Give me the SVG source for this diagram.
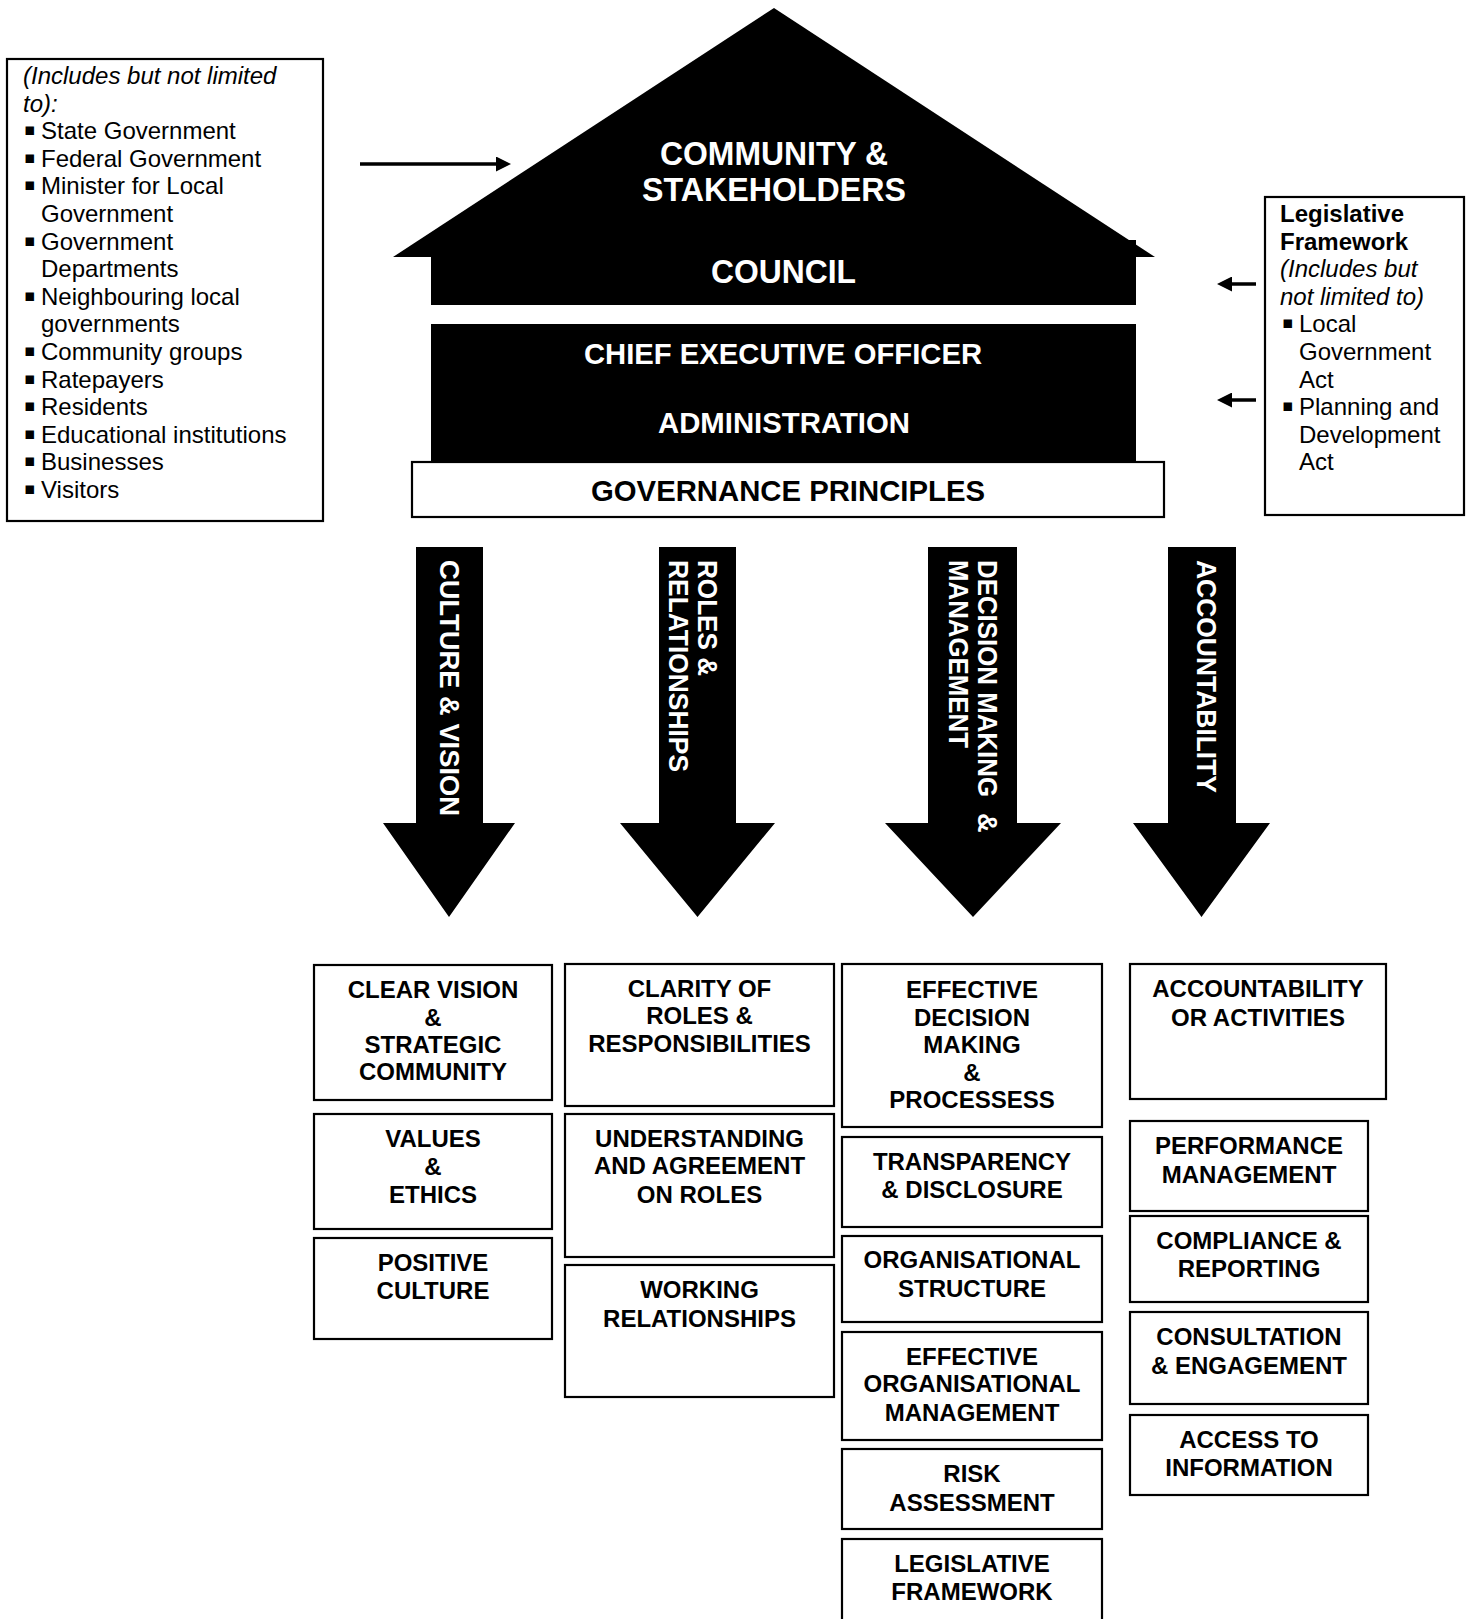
<svg xmlns="http://www.w3.org/2000/svg" width="1470" height="1619" viewBox="0 0 1470 1619">
<defs>
<style>
.bg{fill:#fff}
.blk{fill:#000}
.box{fill:#fff;stroke:#000;stroke-width:2.2}
.wt{fill:#fff;font-family:"Liberation Sans",Arial,sans-serif;font-weight:bold;text-anchor:middle}
.hb{font-size:33px}
.hm{font-size:30px}
.bt{fill:#000;font-family:"Liberation Sans",Arial,sans-serif;font-weight:bold;font-size:24px;text-anchor:middle}
.lt{fill:#000;font-family:"Liberation Sans",Arial,sans-serif;font-size:24px}
.it{font-style:italic}
.bd{font-weight:bold}
.bul{fill:#000;font-family:"DejaVu Sans",sans-serif;font-size:17px}
.at{fill:#fff;font-family:"Liberation Sans",Arial,sans-serif;font-weight:bold;font-size:27px}
.con{stroke:#000;stroke-width:3.5;fill:none}
</style>
<marker id="ah" viewBox="0 0 15 15" refX="3" refY="7.5" markerWidth="15" markerHeight="15" markerUnits="userSpaceOnUse" orient="auto">
<path d="M0,0 L15,7.5 L0,15 Z" fill="#000"/>
</marker>
</defs>
<rect class="bg" x="0" y="0" width="1470" height="1619"/>

<g id="stakeholders-list">
<rect class="box" x="7" y="59" width="316" height="462"/>
<text class="lt it" x="23" y="84">(Includes but not limited</text>
<text class="lt it" x="23" y="111.6">to):</text>
<text class="bul" x="24" y="135.2">▪</text><text class="lt" x="41" y="139.2">State Government</text>
<text class="bul" x="24" y="162.8">▪</text><text class="lt" x="41" y="166.8">Federal Government</text>
<text class="bul" x="24" y="190.4">▪</text><text class="lt" x="41" y="194.4">Minister for Local</text>
<text class="lt" x="41" y="222">Government</text>
<text class="bul" x="24" y="245.6">▪</text><text class="lt" x="41" y="249.6">Government</text>
<text class="lt" x="41" y="277.2">Departments</text>
<text class="bul" x="24" y="300.8">▪</text><text class="lt" x="41" y="304.8">Neighbouring local</text>
<text class="lt" x="41" y="332.4">governments</text>
<text class="bul" x="24" y="356">▪</text><text class="lt" x="41" y="360">Community groups</text>
<text class="bul" x="24" y="383.6">▪</text><text class="lt" x="41" y="387.6">Ratepayers</text>
<text class="bul" x="24" y="411.2">▪</text><text class="lt" x="41" y="415.2">Residents</text>
<text class="bul" x="24" y="438.8">▪</text><text class="lt" x="41" y="442.8">Educational institutions</text>
<text class="bul" x="24" y="466.4">▪</text><text class="lt" x="41" y="470.4">Businesses</text>
<text class="bul" x="24" y="494">▪</text><text class="lt" x="41" y="498">Visitors</text>
</g>

<g id="legislative-framework">
<rect class="box" x="1265" y="197" width="199" height="318"/>
<text class="lt bd" x="1280" y="222">Legislative</text>
<text class="lt bd" x="1280" y="249.6">Framework</text>
<text class="lt it" x="1280" y="277.2">(Includes but</text>
<text class="lt it" x="1280" y="304.8">not limited to)</text>
<text class="bul" x="1282" y="328.4">▪</text><text class="lt" x="1299" y="332.4">Local</text>
<text class="lt" x="1299" y="360">Government</text>
<text class="lt" x="1299" y="387.6">Act</text>
<text class="bul" x="1282" y="411.2">▪</text><text class="lt" x="1299" y="415.2">Planning and</text>
<text class="lt" x="1299" y="442.8">Development</text>
<text class="lt" x="1299" y="470.4">Act</text>
</g>

<g id="council">
<rect class="blk" x="431" y="240" width="705" height="65"/>
<polygon class="blk" points="774,8 1155,257 393,257"/>
<text class="wt hb" x="774" y="165" textLength="228" lengthAdjust="spacingAndGlyphs">COMMUNITY &amp;</text>
<text class="wt hb" x="774" y="201" textLength="264" lengthAdjust="spacingAndGlyphs">STAKEHOLDERS</text>
<text class="wt hb" x="783.5" y="283" textLength="145" lengthAdjust="spacingAndGlyphs">COUNCIL</text>
</g>

<g id="administration">
<rect class="blk" x="431" y="324" width="705" height="140"/>
<text class="wt hm" x="783" y="364" textLength="398" lengthAdjust="spacingAndGlyphs">CHIEF EXECUTIVE OFFICER</text>
<text class="wt hm" x="784" y="433" textLength="252" lengthAdjust="spacingAndGlyphs">ADMINISTRATION</text>
</g>

<g id="governance-principles">
<rect class="box" x="412" y="462" width="752" height="55"/>
<text class="bt" x="788" y="501" style="font-size:30px" textLength="394" lengthAdjust="spacingAndGlyphs">GOVERNANCE PRINCIPLES</text>
</g>

<g id="connectors">
<line class="con" x1="360" y1="164" x2="499" y2="164" marker-end="url(#ah)"/>
<line class="con" x1="1256" y1="284" x2="1229" y2="284" marker-end="url(#ah)"/>
<line class="con" x1="1256" y1="400" x2="1229" y2="400" marker-end="url(#ah)"/>
</g>

<g id="arrow-culture">
<polygon class="blk" points="416,547 483,547 483,823 515,823 449,917 383,823 416,823"/>
<text class="at" transform="translate(440,560) rotate(90)" x="0" y="0" textLength="256" lengthAdjust="spacingAndGlyphs">CULTURE &amp; VISION</text>
</g>
<g id="arrow-roles">
<polygon class="blk" points="659,547 736,547 736,823 775,823 697.5,917 620,823 659,823"/>
<text class="at" transform="translate(698,560) rotate(90)" x="0" y="0" textLength="116" lengthAdjust="spacingAndGlyphs">ROLES &amp;</text>
<text class="at" transform="translate(669,560) rotate(90)" x="0" y="0" textLength="212" lengthAdjust="spacingAndGlyphs">RELATIONSHIPS</text>
</g>
<g id="arrow-decision">
<polygon class="blk" points="928,547 1017,547 1017,823 1061,823 973,917 885,823 928,823"/>
<text class="at" transform="translate(978,560) rotate(90)" x="0" y="0"><tspan textLength="237" lengthAdjust="spacingAndGlyphs">DECISION MAKING</tspan><tspan x="253">&amp;</tspan></text>
<text class="at" transform="translate(949,560) rotate(90)" x="0" y="0" textLength="188" lengthAdjust="spacingAndGlyphs">MANAGEMENT</text>
</g>
<g id="arrow-accountability">
<polygon class="blk" points="1168,547 1236,547 1236,823 1270,823 1201.5,917 1133,823 1168,823"/>
<text class="at" transform="translate(1197,560) rotate(90)" x="0" y="0" textLength="233" lengthAdjust="spacingAndGlyphs">ACCOUNTABILITY</text>
</g>

<g id="clear-vision">
<rect class="box" x="314" y="965" width="238" height="135"/>
<text class="bt" x="433" y="998">CLEAR VISION</text>
<text class="bt" x="433" y="1026">&amp;</text>
<text class="bt" x="433" y="1053">STRATEGIC</text>
<text class="bt" x="433" y="1080">COMMUNITY</text>
</g>
<g id="values-ethics">
<rect class="box" x="314" y="1114" width="238" height="115"/>
<text class="bt" x="433" y="1147">VALUES</text>
<text class="bt" x="433" y="1175">&amp;</text>
<text class="bt" x="433" y="1203">ETHICS</text>
</g>
<g id="positive-culture">
<rect class="box" x="314" y="1238" width="238" height="101"/>
<text class="bt" x="433" y="1271">POSITIVE</text>
<text class="bt" x="433" y="1299">CULTURE</text>
</g>

<g id="clarity-roles">
<rect class="box" x="565" y="964" width="269" height="142"/>
<text class="bt" x="699.5" y="997">CLARITY OF</text>
<text class="bt" x="699.5" y="1024">ROLES &amp;</text>
<text class="bt" x="699.5" y="1052">RESPONSIBILITIES</text>
</g>
<g id="understanding-roles">
<rect class="box" x="565" y="1114" width="269" height="143"/>
<text class="bt" x="699.5" y="1147">UNDERSTANDING</text>
<text class="bt" x="699.5" y="1174">AND AGREEMENT</text>
<text class="bt" x="699.5" y="1203">ON ROLES</text>
</g>
<g id="working-relationships">
<rect class="box" x="565" y="1265" width="269" height="132"/>
<text class="bt" x="699.5" y="1298">WORKING</text>
<text class="bt" x="699.5" y="1327">RELATIONSHIPS</text>
</g>

<g id="effective-decision-making">
<rect class="box" x="842" y="964" width="260" height="163"/>
<text class="bt" x="972" y="998">EFFECTIVE</text>
<text class="bt" x="972" y="1025.5">DECISION</text>
<text class="bt" x="972" y="1053">MAKING</text>
<text class="bt" x="972" y="1080.5">&amp;</text>
<text class="bt" x="972" y="1108">PROCESSESS</text>
</g>
<g id="transparency">
<rect class="box" x="842" y="1137" width="260" height="90"/>
<text class="bt" x="972" y="1170">TRANSPARENCY</text>
<text class="bt" x="972" y="1198">&amp; DISCLOSURE</text>
</g>
<g id="organisational-structure">
<rect class="box" x="842" y="1236" width="260" height="86"/>
<text class="bt" x="972" y="1268">ORGANISATIONAL</text>
<text class="bt" x="972" y="1297">STRUCTURE</text>
</g>
<g id="effective-org-management">
<rect class="box" x="842" y="1332" width="260" height="108"/>
<text class="bt" x="972" y="1365">EFFECTIVE</text>
<text class="bt" x="972" y="1392">ORGANISATIONAL</text>
<text class="bt" x="972" y="1421">MANAGEMENT</text>
</g>
<g id="risk-assessment">
<rect class="box" x="842" y="1449" width="260" height="80"/>
<text class="bt" x="972" y="1482">RISK</text>
<text class="bt" x="972" y="1511">ASSESSMENT</text>
</g>
<g id="legislative-framework-box">
<rect class="box" x="842" y="1539" width="260" height="90"/>
<text class="bt" x="972" y="1572">LEGISLATIVE</text>
<text class="bt" x="972" y="1600">FRAMEWORK</text>
</g>

<g id="accountability-activities">
<rect class="box" x="1130" y="964" width="256" height="135"/>
<text class="bt" x="1258" y="997">ACCOUNTABILITY</text>
<text class="bt" x="1258" y="1026">OR ACTIVITIES</text>
</g>
<g id="performance-management">
<rect class="box" x="1130" y="1121" width="238" height="90"/>
<text class="bt" x="1249" y="1154">PERFORMANCE</text>
<text class="bt" x="1249" y="1183">MANAGEMENT</text>
</g>
<g id="compliance-reporting">
<rect class="box" x="1130" y="1216" width="238" height="86"/>
<text class="bt" x="1249" y="1249">COMPLIANCE &amp;</text>
<text class="bt" x="1249" y="1277">REPORTING</text>
</g>
<g id="consultation-engagement">
<rect class="box" x="1130" y="1312" width="238" height="92"/>
<text class="bt" x="1249" y="1345">CONSULTATION</text>
<text class="bt" x="1249" y="1374">&amp; ENGAGEMENT</text>
</g>
<g id="access-information">
<rect class="box" x="1130" y="1415" width="238" height="80"/>
<text class="bt" x="1249" y="1448">ACCESS TO</text>
<text class="bt" x="1249" y="1476">INFORMATION</text>
</g>
</svg>
